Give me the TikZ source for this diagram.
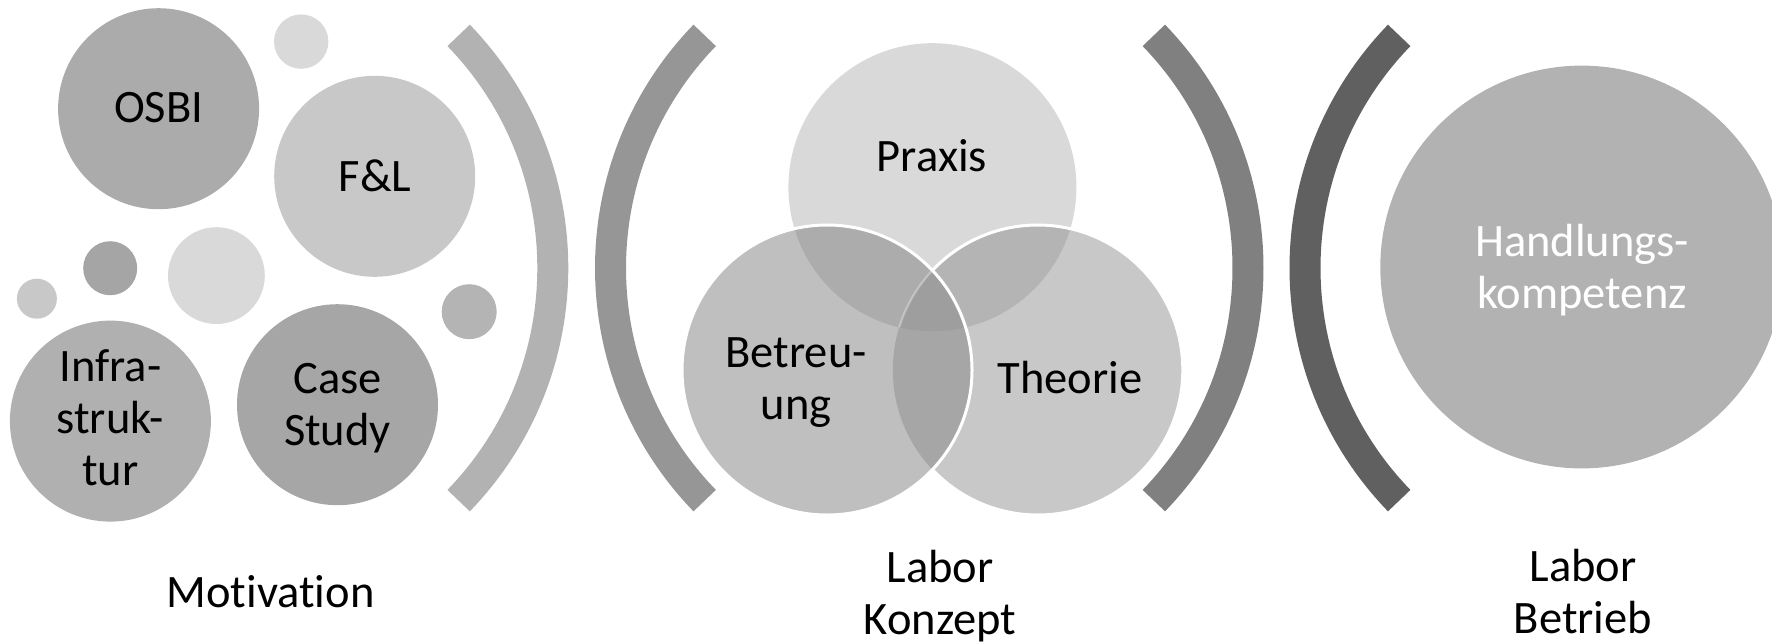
\documentclass[tikz,border=0pt]{standalone}
\usepackage{fontspec}
\setmainfont{Carlito}[Ligatures={TeX,NoCommon}]
\definecolor{cOSBI}{RGB}{171,171,171}
\definecolor{cTop}{RGB}{217,217,217}
\definecolor{cFL}{RGB}{200,200,200}
\definecolor{cDark}{RGB}{165,165,165}
\definecolor{cTiny}{RGB}{200,200,200}
\definecolor{cMed}{RGB}{217,217,217}
\definecolor{cRS}{RGB}{180,180,180}
\definecolor{cInfra}{RGB}{176,176,176}
\definecolor{cCase}{RGB}{166,166,166}
\definecolor{cHand}{RGB}{178,178,178}
\definecolor{cP}{RGB}{217,217,217}
\definecolor{cB}{RGB}{191,191,191}
\definecolor{cT}{RGB}{200,200,200}
\definecolor{cPB}{RGB}{172,172,172}
\definecolor{cPT}{RGB}{180,180,180}
\definecolor{cBT}{RGB}{166,166,166}
\definecolor{cPBT}{RGB}{158,158,158}
\definecolor{cArcA}{RGB}{178,178,178}
\definecolor{cArcB}{RGB}{150,150,150}
\definecolor{cArcC}{RGB}{128,128,128}
\definecolor{cArcD}{RGB}{96,96,96}
\begin{document}
\begin{tikzpicture}[x=1pt,y=-1pt,
  lbl/.style={font=\fontsize{46.5}{52}\selectfont, align=center, inner sep=0pt, text=black},
  brk/.style={line width=31pt},
]
\useasboundingbox (0,0) rectangle (1772,643);
% motivation bubbles
\fill[cOSBI] (158.6,108.7) circle[radius=100.5pt];
\fill[cTop] (301.2,41.6) circle[radius=27.2pt];
\fill[cFL] (374.7,176.3) circle[radius=100.5pt];
\fill[cDark] (110.2,268.2) circle[radius=27pt];
\fill[cTiny] (36.9,298.7) circle[radius=20pt];
\fill[cMed] (216.4,275.6) circle[radius=48.4pt];
\fill[cRS] (469.2,311.7) circle[radius=27.5pt];
\fill[cInfra] (110.4,421.1) circle[radius=100.5pt];
\fill[cCase] (337.5,404.7) circle[radius=100.5pt];
% brackets
\coordinate (a1) at (218.4,268);
\coordinate (a2) at (944.9,268);
\coordinate (a3) at (913.6,268);
\coordinate (a4) at (1639.4,268);
\draw[brk, cArcA] (a1) ++(-44.08:334.4pt) arc[start angle=-44.08, end angle=44.08, radius=334.4pt];
\draw[brk, cArcB] (a2) ++(135.92:334.4pt) arc[start angle=135.92, end angle=224.08, radius=334.4pt];
\draw[brk, cArcC] (a3) ++(-44.08:334.4pt) arc[start angle=-44.08, end angle=44.08, radius=334.4pt];
\draw[brk, cArcD] (a4) ++(135.92:334.4pt) arc[start angle=135.92, end angle=224.08, radius=334.4pt];
% venn
\coordinate (P) at (932.4,187.2);
\coordinate (B) at (827,370);
\coordinate (T) at (1037.8,370);
\fill[cP] (P) circle[radius=144pt];
\fill[cT] (T) circle[radius=145pt];
\begin{scope}
  \clip (P) circle[radius=144pt];
  \fill[cPT] (T) circle[radius=145pt];
\end{scope}
\draw[white, line width=3pt] (T) circle[radius=145pt];
\fill[cB] (B) circle[radius=145pt];
\begin{scope}
  \clip (B) circle[radius=145pt];
  \fill[cPB] (P) circle[radius=144pt];
  \fill[cBT] (T) circle[radius=145pt];
  \clip (T) circle[radius=145pt];
  \fill[cPBT] (P) circle[radius=144pt];
\end{scope}
\begin{scope}
  \clip (B) circle[radius=145pt];
  \clip (P) circle[radius=144pt];
  \draw[white, opacity=0.35, line width=2pt] (T) circle[radius=145pt];
\end{scope}
\draw[white, line width=3pt] (B) circle[radius=145pt];
% result
\fill[cHand] (1581.7,267) circle[radius=201.4pt];
% texts
\node[lbl] (tOSBI) at (158.6,108) {OSBI};
\node[lbl] (tFL) at (375,176) {F\&L};
\node[lbl] (tInfra) at (110.4,418) {Infra-\\struk-\\tur};
\node[lbl] (tCase) at (337.5,408) {Case\\Study};
\node[lbl] (tPraxis) at (932,156) {Praxis};
\node[lbl] (tBetr) at (796,383) {Betreu-\\ung};
\node[lbl] (tTheo) at (1070,378) {Theorie};
\node[lbl, text=white] (tHand) at (1582,270) {Handlungs-\\kompetenz};
\node[lbl] (tMot) at (270.5,591.5) {Motivation};
\node[lbl] (tLK) at (940,596) {Labor\\Konzept};
\node[lbl] (tLB) at (1583,592) {Labor\\Betrieb};
\end{tikzpicture}
\end{document}
